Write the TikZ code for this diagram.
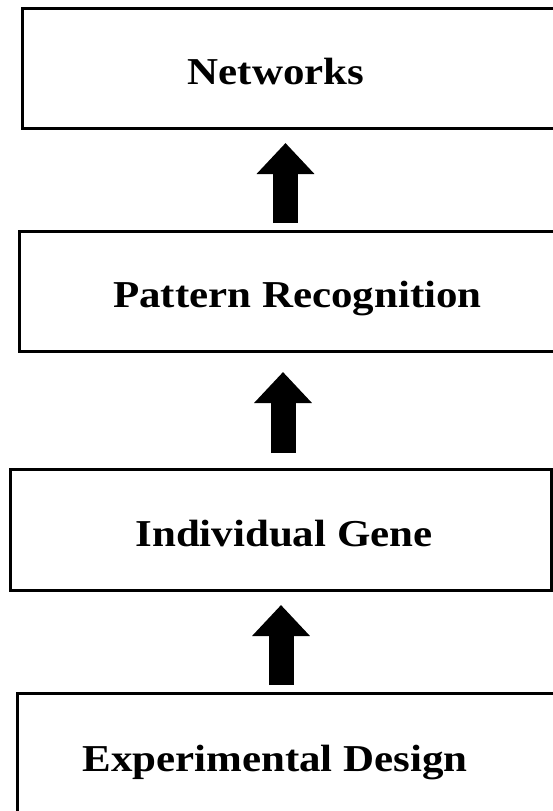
\documentclass[tikz,border=0pt]{standalone}
\usepackage{fontspec}
\setmainfont{Liberation Serif}
\usetikzlibrary{arrows.meta}
\tikzset{
  box/.style={draw=black, line width=3pt, outer sep=0pt, inner sep=0pt, fill=white},
  lbl/.style={anchor=base, inner sep=0pt, xscale=1.13, font=\fontsize{38}{42}\selectfont\bfseries},
  bigarrow/.style={line width=25pt, -{Triangle[width=56pt,length=31pt]}}
}
\begin{document}
\begin{tikzpicture}[x=1pt,y=-1pt]
\useasboundingbox[fill=white] (0,0) rectangle (553,811);
% boxes
\node[box, minimum width=538pt, minimum height=120pt] (nw) at (291,68) {};
\node[box, minimum width=541pt, minimum height=120pt] (pr) at (289.5,291) {};
\node[box, minimum width=541pt, minimum height=121pt] (ig) at (280.5,529.5) {};
\node[box, minimum width=543pt, minimum height=121pt] (ed) at (288.5,753.5) {};
% labels
\node[lbl] (nwt) at (276,84) {Networks};
\node[lbl] (prt) at (297.5,307) {Pattern Recognition};
\node[lbl] (igt) at (284,546) {Individual Gene};
\node[lbl] (edt) at (275,771) {Experimental Design};
% arrows
\draw[bigarrow] ([xshift=-4pt,yshift=8pt]pr.north) -- ([xshift=-5.5pt,yshift=-15pt]nw.south);
\draw[bigarrow] ([xshift=2.5pt,yshift=16pt]ig.north) -- ([xshift=-6.5pt,yshift=-21pt]pr.south);
\draw[bigarrow] ([xshift=-7.5pt,yshift=8pt]ed.north) -- ([xshift=0.5pt,yshift=-15pt]ig.south);
\end{tikzpicture}
\end{document}
